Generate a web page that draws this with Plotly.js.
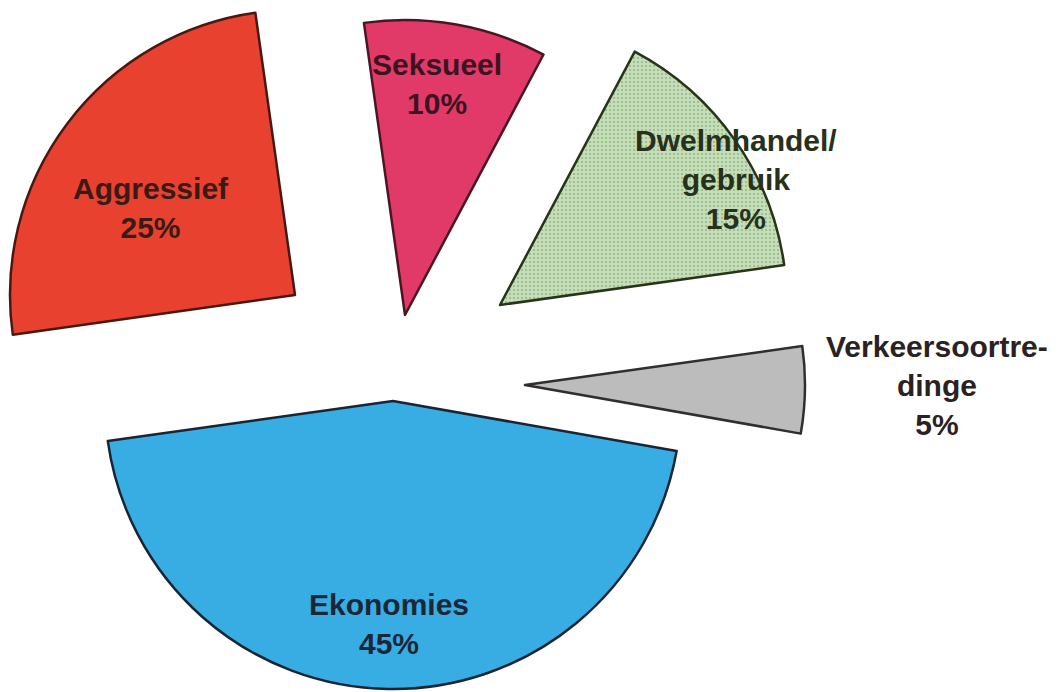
<!DOCTYPE html>
<html>
<head>
<meta charset="utf-8">
<script src="https://cdn.plot.ly/plotly-3.0.1.min.js"></script>
<style>html,body{margin:0;padding:0;background:#fff;}#chart{width:1063px;height:692px;}</style>
</head>
<body>
<div id="chart"></div>
<script>
// Data
var categories = ['Seksueel', 'Dwelmhandel/gebruik', 'Verkeersoortredinge', 'Ekonomies', 'Aggressief'];
var values = [10, 15, 5, 45, 25];
var sliceLabels = ['Seksueel', 'Dwelmhandel/<br>gebruik', 'Verkeersoortre-<br>dinge', 'Ekonomies', 'Aggressief'];

// Styles
var colors = ['#e23a68', '#c6ddb9', '#bcbcbc', '#37ade3', '#e8412f'];
var edgeColors = ['#4a1624', '#26341a', '#332e2e', '#1a2432', '#4a1812'];
var textColors = ['#3a1420', '#26301c', '#2a2222', '#1c2636', '#3a1a14'];
var START_ANGLE = -8;
// exploded layout: apex position (px) and radius (px) of each slice
var explode = [
  {cx: 405, cy: 315, r: 295},
  {cx: 500, cy: 305, r: 287},
  {cx: 525, cy: 385, r: 280},
  {cx: 393, cy: 401, r: 288},
  {cx: 295, cy: 295, r: 285}
];
// label placement: fraction of radius along (bisector + angle offset)
var labelPlace = [
  {f: 0.79, da: -2},
  {f: 0.93, da: 7},
  {f: 1.47, da: -1},
  {f: 0.775, da: 0},
  {f: 0.59, da: -6}
];
var W = 1063, H = 692;

var total = values.reduce(function (a, b) { return a + b; }, 0);

var traces = categories.map(function (cat, i) {
  var e = explode[i];
  return {
    type: 'pie',
    values: values,
    labels: categories,
    sort: false,
    direction: 'clockwise',
    rotation: START_ANGLE,
    domain: {
      x: [(e.cx - e.r) / W, (e.cx + e.r) / W],
      y: [1 - (e.cy + e.r) / H, 1 - (e.cy - e.r) / H]
    },
    marker: {
      colors: colors.map(function (c, j) { return j === i ? c : 'rgba(0,0,0,0)'; }),
      line: {
        color: edgeColors.map(function (c, j) { return j === i ? c : 'rgba(0,0,0,0)'; }),
        width: categories.map(function (c, j) { return j === i ? 2.5 : 0; })
      },
      pattern: {
        shape: categories.map(function (c, j) { return (j === i && j === 1) ? '.' : ''; }),
        fgcolor: '#5f8f4c',
        bgcolor: '#c6ddb9',
        fillmode: 'overlay',
        size: 4,
        solidity: 0.22
      }
    },
    textinfo: 'none',
    hoverinfo: 'skip',
    showlegend: false
  };
});

// labels positioned from the data-derived slice angles
var annotations = [];
var cum = 0;
categories.forEach(function (cat, i) {
  var mid = START_ANGLE + 360 * (cum + values[i] / 2) / total + labelPlace[i].da;
  cum += values[i];
  var e = explode[i];
  var d = labelPlace[i].f * e.r;
  var rad = mid * Math.PI / 180;
  var px = e.cx + d * Math.sin(rad);
  var py = e.cy - d * Math.cos(rad);
  annotations.push({
    xref: 'paper', yref: 'paper',
    x: px / W, y: 1 - py / H,
    xanchor: 'center', yanchor: 'middle',
    showarrow: false,
    text: sliceLabels[i] + '<br>' + values[i] + '%',
    align: 'center',
    font: {family: 'Liberation Sans, Arial, sans-serif', size: 30, weight: 'bold', color: textColors[i]}
  });
});

var layout = {
  width: W, height: H,
  margin: {l: 0, r: 0, t: 0, b: 0},
  paper_bgcolor: '#ffffff',
  showlegend: false,
  annotations: annotations
};

Plotly.newPlot('chart', traces, layout, {displayModeBar: false, staticPlot: true});
</script>
</body>
</html>
